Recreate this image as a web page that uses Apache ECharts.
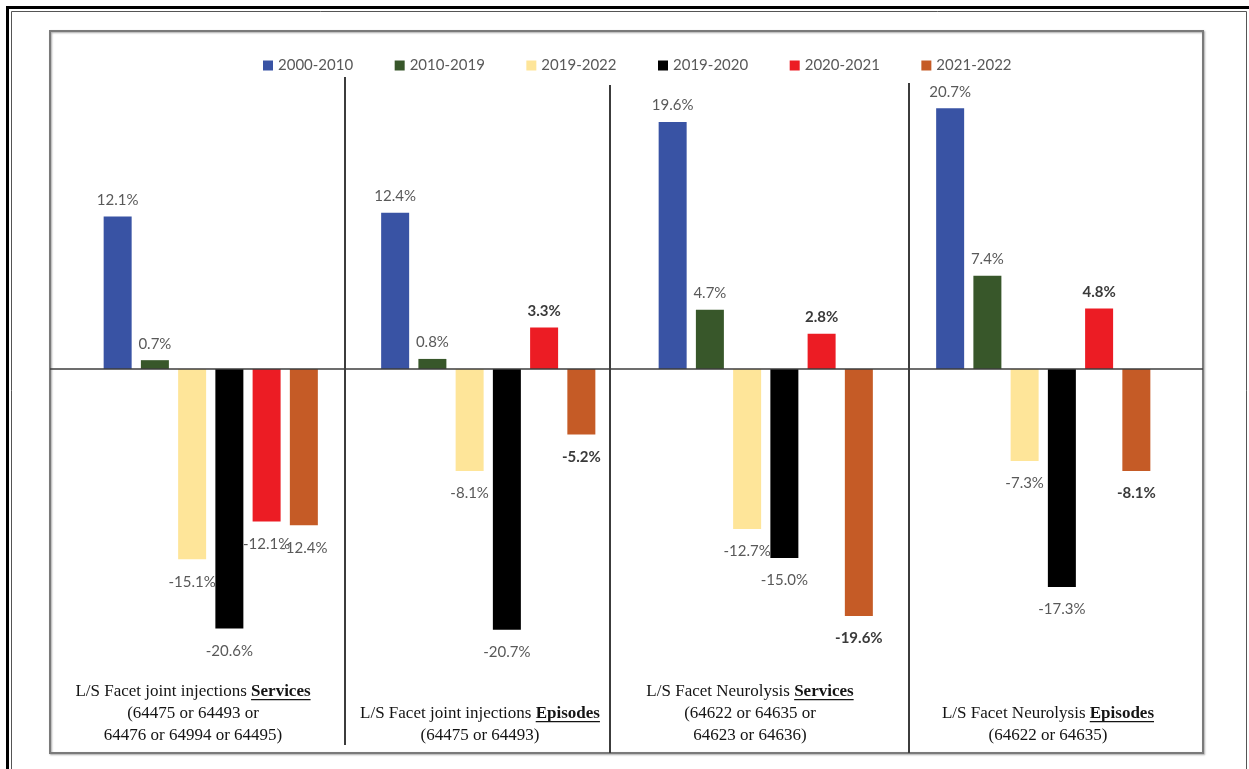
<!DOCTYPE html>
<html>
<head>
<meta charset="utf-8">
<title>L/S facet procedures – annual growth</title>
<script src="https://cdn.jsdelivr.net/npm/echarts@6/dist/echarts.min.js"></script>
<style>
  html, body { margin: 0; padding: 0; background: #ffffff; }
  #main { width: 1249px; height: 769px; }
</style>
</head>
<body>
<div id="main"></div>
<script>
// Procedure groups shown along the bottom
const procedures = ['L/S Facet joint injections', 'L/S Facet joint injections', 'L/S Facet Neurolysis', 'L/S Facet Neurolysis'];
const measures = ['Services', 'Episodes', 'Services', 'Episodes'];
const codeLines = [
  ['(64475 or 64493 or', '64476 or 64994 or 64495)'],
  ['(64475 or 64493)'],
  ['(64622 or 64635 or', '64623 or 64636)'],
  ['(64622 or 64635)']
];

// Periods (legend) and growth rates in percent, one value per procedure group
const periods = ['2000-2010', '2010-2019', '2019-2022', '2019-2020', '2020-2021', '2021-2022'];
const growth2000to2010 = [12.1, 12.4, 19.6, 20.7];
const growth2010to2019 = [0.7, 0.8, 4.7, 7.4];
const growth2019to2022 = [-15.1, -8.1, -12.7, -7.3];
const growth2019to2020 = [-20.6, -20.7, -15.0, -17.3];
const growth2020to2021 = [-12.1, 3.3, 2.8, 4.8];
const growth2021to2022 = [-12.4, -5.2, -19.6, -8.1];

const periodValues = [growth2000to2010, growth2010to2019, growth2019to2022, growth2019to2020, growth2020to2021, growth2021to2022];
const periodColors = ['#3953a4', '#38572a', '#fee599', '#000000', '#ec1c24', '#c55b26'];

const categories = procedures.map((p, i) => p + ' ' + measures[i]);

const LABEL_FONT = 'Lato, "Open Sans", sans-serif';
const SERIF = '"Liberation Serif", "DejaVu Serif", serif';

const chart = echarts.init(document.getElementById('main'), null, { renderer: 'canvas' });

const series = periods.map((name, si) => ({
  name: name,
  type: 'bar',
  barWidth: 28,
  barGap: '33%',
  itemStyle: { color: periodColors[si] },
  label: {
    show: true,
    fontFamily: LABEL_FONT,
    fontSize: 15,
    formatter: p => p.value.toFixed(1) + '%'
  },
  data: periodValues[si].map((v, ci) => {
    // the two most recent yearly changes are emphasised for the later groups
    const strong = si >= 4 && ci >= 1;
    return {
      value: v,
      label: {
        position: v < 0 ? 'bottom' : 'top',
        distance: v < 0 ? 15 : 9,
        fontWeight: strong ? 'bold' : 'normal',
        color: strong ? '#3a3a3a' : '#595959'
      }
    };
  })
}));

chart.setOption({
  animation: false,
  backgroundColor: '#ffffff',
  legend: {
    data: periods,
    left: 258,
    top: 53,
    icon: 'rect',
    itemWidth: 10,
    itemHeight: 10,
    itemGap: 41.5,
    textStyle: { color: '#595959', fontSize: 15, fontFamily: LABEL_FONT }
  },
  grid: { left: 72, width: 1110, top: 54, height: 630, containLabel: false },
  xAxis: {
    type: 'category',
    data: categories,
    axisLine: { show: false },
    axisTick: { show: false },
    axisLabel: { show: false },
    splitLine: { show: false }
  },
  yAxis: {
    type: 'value',
    min: -25,
    max: 25,
    show: false,
    splitLine: { show: false }
  },
  series: series
});

// Decorations: page border, panel frame, group dividers, zero line, group titles
const y0 = chart.convertToPixel({ yAxisIndex: 0 }, 0);
const measureCtx = document.createElement('canvas').getContext('2d');
function textWidth(str, weight) {
  measureCtx.font = weight + ' 17px ' + SERIF;
  return measureCtx.measureText(str).width;
}

const titleCenters = [193, 480, 750, 1048];
const lastLineY = 736;
const lineStep = 22;

const graphics = [
  { type: 'rect', z: 1, shape: { x: 7.5, y: 7.5, width: 1260, height: 800 }, style: { fill: 'none', stroke: '#000', lineWidth: 3 } },
  { type: 'rect', z: 1, shape: { x: 11.5, y: 11.5, width: 1235, height: 800 }, style: { fill: 'none', stroke: '#555', lineWidth: 1 } },
  { type: 'rect', z: 1, shape: { x: 50, y: 31, width: 1153, height: 722 },
    style: { fill: 'none', stroke: '#7a7a7a', lineWidth: 2, shadowBlur: 2, shadowColor: 'rgba(0,0,0,0.35)', shadowOffsetX: 1, shadowOffsetY: 1 } },
  { type: 'line', z: 2, shape: { x1: 345, y1: 77, x2: 345, y2: 745 }, style: { stroke: '#3c3c3c', lineWidth: 2 } },
  { type: 'line', z: 2, shape: { x1: 610, y1: 85, x2: 610, y2: 753 }, style: { stroke: '#3c3c3c', lineWidth: 2 } },
  { type: 'line', z: 2, shape: { x1: 909, y1: 83, x2: 909, y2: 753 }, style: { stroke: '#3c3c3c', lineWidth: 2 } },
  { type: 'line', z: 100, shape: { x1: 50, y1: y0, x2: 1203, y2: y0 }, style: { stroke: '#3c3c3c', lineWidth: 1.5 } }
];

procedures.forEach((proc, i) => {
  const lines = codeLines[i];
  const cx = titleCenters[i];
  const firstY = lastLineY - lines.length * lineStep;
  const wNormal = textWidth(proc + ' ', 'normal');
  const wBold = textWidth(measures[i], 'bold');
  const startX = cx - (wNormal + wBold) / 2;
  graphics.push({
    type: 'text', z: 5, x: cx, y: firstY,
    style: {
      text: '{n|' + proc + ' }{b|' + measures[i] + '}',
      align: 'center', verticalAlign: 'middle',
      rich: {
        n: { fontFamily: SERIF, fontSize: 17, fill: '#141414' },
        b: { fontFamily: SERIF, fontSize: 17, fontWeight: 'bold', fill: '#141414' }
      }
    }
  });
  graphics.push({
    type: 'rect', z: 5,
    shape: { x: startX + wNormal, y: firstY + 7, width: wBold, height: 1.2 },
    style: { fill: '#141414' }
  });
  lines.forEach((ln, k) => {
    graphics.push({
      type: 'text', z: 5, x: cx, y: firstY + (k + 1) * lineStep,
      style: { text: ln, align: 'center', verticalAlign: 'middle', fontFamily: SERIF, fontSize: 17, fill: '#141414' }
    });
  });
});

chart.setOption({ graphic: graphics });
</script>
</body>
</html>
